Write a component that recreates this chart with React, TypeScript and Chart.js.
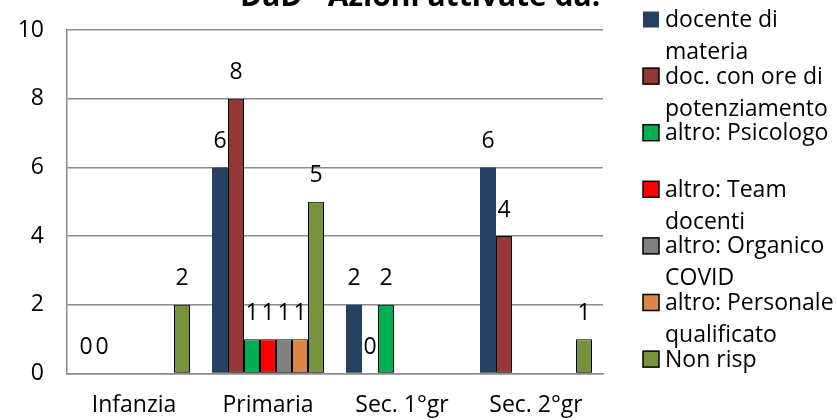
import React, { useEffect, useRef } from "react";
import { Chart, registerables } from "chart.js";

Chart.register(...registerables);

const titleText = "DaD - Azioni attivate da:";
const categories = ["Infanzia", "Primaria", "Sec. 1°gr", "Sec. 2°gr"];

const docenteMateria: (number | null)[] = [0, 6, 2, 6];
const docOrePotenziamento: (number | null)[] = [0, 8, 0, 4];
const altroPsicologo: (number | null)[] = [null, 1, 2, null];
const altroTeamDocenti: (number | null)[] = [null, 1, null, null];
const altroOrganicoCovid: (number | null)[] = [null, 1, null, null];
const altroPersonaleQualificato: (number | null)[] = [null, 1, null, null];
const nonRisp: (number | null)[] = [2, 5, null, 1];

const seriesLabels: string[][] = [
  ["docente di", "materia"],
  ["doc. con ore di", "potenziamento"],
  ["altro: Psicologo"],
  ["altro: Team", "docenti"],
  ["altro: Organico", "COVID"],
  ["altro: Personale", "qualificato"],
  ["Non risp"],
];
const seriesValues = [
  docenteMateria,
  docOrePotenziamento,
  altroPsicologo,
  altroTeamDocenti,
  altroOrganicoCovid,
  altroPersonaleQualificato,
  nonRisp,
];
const seriesColors = ["#254061", "#953735", "#00B050", "#FF0000", "#808080", "#DE8744", "#77933C"];
const seriesBorders = [0, 1, 1, 1, 1, 1, 1];

const yMin = 0;
const yMax = 10;
const yStep = 2;

const FONT = "'Open Sans', 'Noto Sans', sans-serif";
const GRID = "#8c8c8c";

const shadowPlugin = {
  id: "barShadow",
  beforeDatasetDraw(chart: any, args: any) {
    const ctx = chart.ctx;
    ctx.save();
    if (args.index !== 0) {
      ctx.shadowColor = "rgba(0,0,0,0.3)";
      ctx.shadowOffsetX = 0;
      ctx.shadowOffsetY = 3;
      ctx.shadowBlur = 1;
    }
  },
  afterDatasetDraw(chart: any) {
    chart.ctx.restore();
  },
};

const labelsPlugin = {
  id: "valueLabels",
  afterDatasetsDraw(chart: any) {
    const ctx = chart.ctx;
    ctx.save();
    ctx.font = `23px ${FONT}`;
    ctx.fillStyle = "#000";
    ctx.textAlign = "center";
    ctx.textBaseline = "middle";
    chart.data.datasets.forEach((ds: any, i: number) => {
      const meta = chart.getDatasetMeta(i);
      meta.data.forEach((el: any, j: number) => {
        const v = ds.data[j];
        if (v === null || v === undefined) return;
        ctx.fillText(String(v), el.x, el.y - 26);
      });
    });
    ctx.restore();
  },
};

const legendTitlePlugin = {
  id: "legendTitle",
  afterDraw(chart: any) {
    const ctx = chart.ctx;
    const area = chart.chartArea;
    ctx.save();
    ctx.font = `bold 30px ${FONT}`;
    ctx.fillStyle = "#000";
    ctx.textAlign = "left";
    ctx.textBaseline = "alphabetic";
    ctx.fillText(titleText, 240, 6);

    const boxX = area.right + 40;
    const textX = boxX + 22;
    const startY = 19.5;
    const step = 56.6;
    ctx.font = `23px ${FONT}`;
    seriesLabels.forEach((lines, i) => {
      const cy = startY + i * step;
      ctx.fillStyle = seriesColors[i];
      ctx.fillRect(boxX, cy - 8, 16, 16);
      if (seriesBorders[i]) {
        ctx.strokeStyle = "#000";
        ctx.lineWidth = 1.5;
        ctx.strokeRect(boxX, cy - 8, 16, 16);
      }
      ctx.fillStyle = "#000";
      ctx.textBaseline = "middle";
      lines.forEach((line, k) => {
        ctx.fillText(line, textX, cy + 1 + k * 32);
      });
    });
    ctx.restore();
  },
};

export default function App() {
  const ref = useRef<HTMLCanvasElement | null>(null);

  useEffect(() => {
    if (!ref.current) return;
    const chart = new Chart(ref.current, {
      type: "bar",
      data: {
        labels: categories,
        datasets: seriesValues.map((vals, i) => ({
          label: seriesLabels[i].join(" "),
          data: vals,
          backgroundColor: seriesColors[i],
          borderColor: "#000",
          borderWidth: (c: any) => (c.raw === 0 ? 0 : seriesBorders[i]),
          borderSkipped: false,
          categoryPercentage: 0.836,
          barPercentage: 1,
          clip: false as any,
        })),
      },
      options: {
        responsive: false,
        animation: false,
        layout: { padding: { top: 30, right: 234, left: 0, bottom: 0 } },
        plugins: {
          legend: { display: false },
          title: { display: false },
          tooltip: { enabled: false },
        },
        scales: {
          x: {
            grid: { display: false, drawTicks: false },
            border: { display: true, color: GRID, width: 1.5 },
            ticks: { color: "#000", font: { size: 23, family: FONT }, padding: 18 },
            afterFit: (s: any) => {
              s.height = 46.5;
              s.paddingLeft = 0;
              s.paddingRight = 0;
            },
          },
          y: {
            min: yMin,
            max: yMax,
            ticks: { stepSize: yStep, color: "#000", font: { size: 23, family: FONT }, padding: 23 },
            grid: { color: GRID, lineWidth: 1.5, drawTicks: false },
            border: { display: true, color: GRID, width: 1.5 },
            afterFit: (s: any) => {
              s.width = 67;
              s.paddingTop = 0;
              s.paddingBottom = 0;
            },
          },
        },
      },
      plugins: [shadowPlugin, labelsPlugin, legendTitlePlugin],
    });
    return () => chart.destroy();
  }, []);

  return (
    <div style={{ position: "fixed", left: 0, top: 0, width: 837, height: 420, background: "#fff" }}>
      <canvas ref={ref} width={837} height={420} style={{ width: 837, height: 420, display: "block" }} />
    </div>
  );
}
